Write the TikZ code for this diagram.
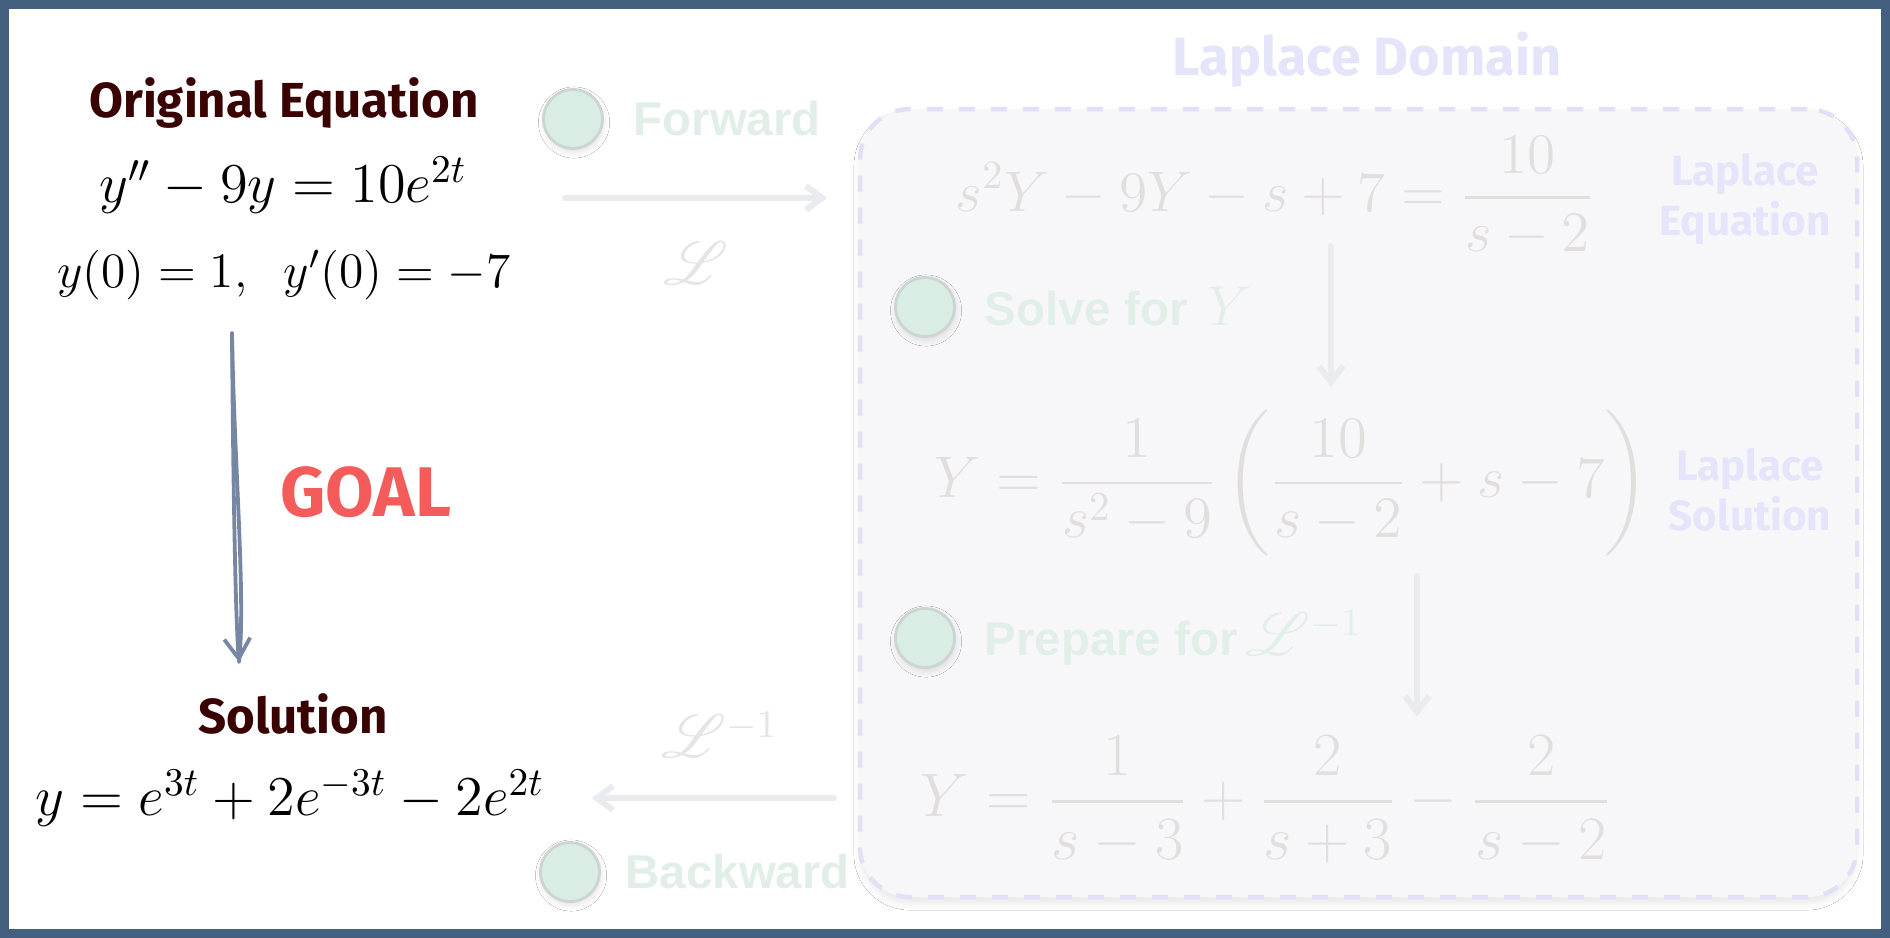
\RequirePackage{fix-cm}
\documentclass[tikz,border=0pt]{standalone}
\usepackage{amsmath}
\usepackage{mathrsfs}
\usepackage{fontspec}
\newfontfamily\comicfont{Fira Sans}
\newfontfamily\stepfont{Liberation Sans}
\usetikzlibrary{arrows.meta, positioning, calc, shadows.blur}
\definecolor{framedark}{HTML}{44607E}
\definecolor{maroondark}{HTML}{3A0303}
\definecolor{goalred}{HTML}{F45B5B}
\definecolor{slatearrow}{HTML}{7787A3}
\definecolor{lavendertxt}{HTML}{E4E4FA}
\definecolor{lavenderdash}{HTML}{E0E0F8}
\definecolor{boxfill}{HTML}{F7F7FA}
\definecolor{fadedmath}{HTML}{E3DEDE}
\definecolor{mintfill}{HTML}{DAEDE4}
\definecolor{mintline}{HTML}{CBD5D1}
\definecolor{minttext}{HTML}{E2EFE9}
\definecolor{fadedarrow}{HTML}{EAEBEF}
\newcommand{\mathbig}{\fontsize{16}{18}\selectfont}
\tikzset{
  head/.style={font=\comicfont\bfseries\fontsize{14}{16}\selectfont, text=maroondark},
  eqn/.style={font=\fontsize{#1}{18}\selectfont, inner sep=0pt},
  eqn/.default=16,
  faded/.style={eqn=#1, text=fadedmath},
  faded/.default=16,
  sidelbl/.style={font=\comicfont\bfseries\fontsize{12}{14.2}\selectfont, text=lavendertxt, align=center},
  stepdot/.style={circle, minimum size=0.59cm, inner sep=0pt, fill=mintfill, draw=mintline, line width=0.8pt,
                  blur shadow={shadow xshift=0.3pt, shadow yshift=-1pt, shadow opacity=12}},
  steplbl/.style={font=\stepfont\bfseries\fontsize{13.5}{15}\selectfont, text=minttext, anchor=west, inner sep=0pt},
  fadeflow/.style={-{Straight Barb[length=0.16cm, width=0.24cm]}, line width=0.06cm, line cap=round, color=fadedarrow},
}

\begin{document}
\begin{tikzpicture}[x=1cm, y=1cm,
  goalflow/.style={line width=0.038cm, line cap=round, color=slatearrow},
  domainbox/.style={draw=lavenderdash, fill=boxfill, rounded corners=0.5cm, line width=0.045cm,
                    dash pattern=on 0.16cm off 0.16cm}]
  \useasboundingbox (0,0) rectangle (18.9,-9.38);
  \fill[white] (0,0) rectangle (18.9,-9.38);
  \draw[framedark, line width=0.09cm] (0.045,-0.045) rectangle (18.855,-9.335);
  % laplace side
  \node[domainbox, minimum width=9.97cm, minimum height=7.88cm,
        blur shadow={shadow xshift=0pt, shadow yshift=-2pt, shadow opacity=8}] (lapbox) at (13.585,-5.03) {};
  \node[font=\comicfont\bfseries\fontsize{15.3}{17}\selectfont, text=lavendertxt] (domtitle) at (13.67,-0.60) {Laplace Domain};
  \node[faded=16.3] (lapeq) at (12.75,-1.96) {$\displaystyle s^2Y-9Y-s+7=\frac{10}{s-2}$};
  \node[faded=16.7] (lapsol) at (12.92,-4.83) {$\displaystyle Y=\frac{1}{s^2-9}\left(\frac{10}{s-2}+s-7\right)$};
  \node[faded=17.5] (partial) at (12.66,-8.00) {$\displaystyle Y=\frac{1}{s-3}+\frac{2}{s+3}-\frac{2}{s-2}$};
  \node[sidelbl] (lbleq) at (17.45,-1.99) {Laplace\\Equation};
  \node[sidelbl] (lblsol) at (17.50,-4.90) {Laplace\\Solution};
  \node[stepdot] (solvedot) at (9.25,-3.07) {};
  \node[steplbl, right=0.28cm of solvedot] (solvelbl) {Solve for\hspace{2pt} {\mathbig$Y$}};
  \node[stepdot] (prepdot) at (9.25,-6.38) {};
  \node[steplbl, right=0.28cm of prepdot] (preplbl) {Prepare for\,{\mathbig$\mathscr{L}^{-1}$}};
  \coordinate (down1a) at (13.31,-2.46);
  \coordinate (down1b) at (13.31,-3.87);
  \coordinate (down2a) at (14.17,-5.76);
  \coordinate (down2b) at (14.17,-7.17);
  \draw[fadeflow] (down1a) -- (down1b);
  \draw[fadeflow] (down2a) -- (down2b);
  % forward / backward
  \node[stepdot] (fwddot) at (5.73,-1.19) {};
  \node[steplbl, right=0.29cm of fwddot] (fwdlbl) {Forward};
  \node[stepdot] (bwddot) at (5.70,-8.72) {};
  \node[steplbl, right=0.24cm of bwddot] (bwdlbl) {Backward};
  \coordinate (fwdtail) at (5.65,-1.98);
  \coordinate (fwdhead) at (8.27,-1.98);
  \coordinate (bwdtail) at (8.34,-7.98);
  \coordinate (bwdhead) at (5.92,-7.98);
  \draw[fadeflow] (fwdtail) -- (fwdhead);
  \draw[fadeflow] (bwdtail) -- (bwdhead);
  \node[eqn, text=black!10] (fwdop) at (6.96,-2.63) {$\mathscr{L}$};
  \node[eqn, text=black!10] (bwdop) at (7.20,-7.35) {$\mathscr{L}^{-1}$};
  % time domain
  \node[head] (origtitle) at (2.84,-1.03) {Original Equation};
  \node[eqn=16] (ode) at (2.83,-1.85) {$y''-9y=10e^{2t}$};
  \node[eqn=14.1] (ic) at (2.84,-2.75) {$y(0)=1,\;\; y'(0)=-7$};
  \node[head] (soltitle) at (2.93,-7.14) {Solution};
  \node[eqn=16] (sol) at (2.90,-7.98) {$y=e^{3t}+2e^{-3t}-2e^{2t}$};
  \node[font=\comicfont\bfseries\fontsize{20}{22}\selectfont, text=goalred] (goal) at (3.66,-4.92) {GOAL};
  \coordinate (goaltop) at (2.32,-3.33);
  \coordinate (goalbot) at (2.39,-6.62);
  \draw[goalflow] (goaltop) .. controls (2.34,-4.6) and (2.46,-6.0) .. (goalbot);
  \draw[goalflow, -{Straight Barb[length=0.2cm, width=0.26cm]}] (goaltop) .. controls (2.33,-4.6) and (2.35,-6.1) .. (goalbot);
\end{tikzpicture}
\end{document}
